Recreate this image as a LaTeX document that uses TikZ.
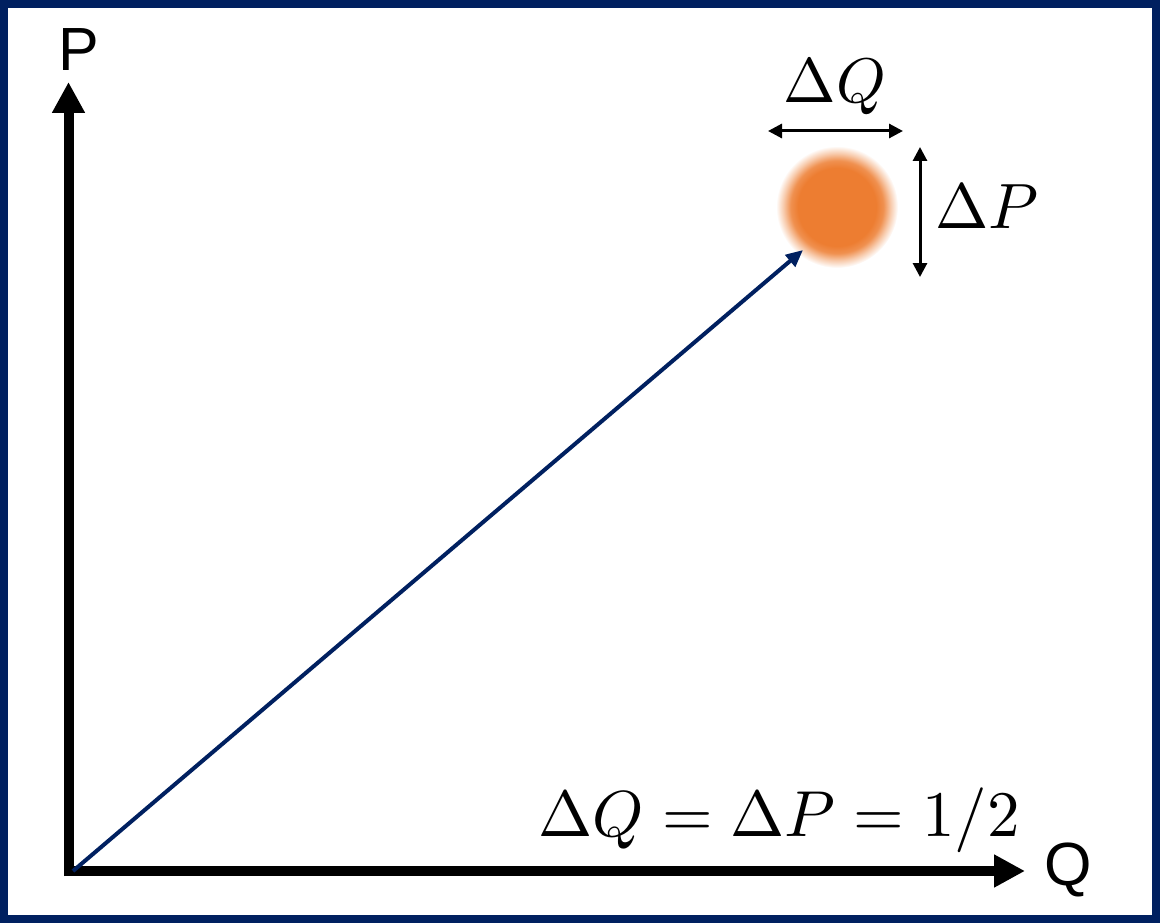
\documentclass[tikz,border=0pt]{standalone}
\usepackage{fontspec}
\setsansfont{Liberation Sans}
\usetikzlibrary{arrows.meta}
\definecolor{navy}{RGB}{0,32,96}
\definecolor{orng}{RGB}{237,125,49}
\pgfdeclareradialshading{blob}{\pgfpoint{0bp}{0bp}}{color(0bp)=(orng); color(16bp)=(orng); color(19bp)=(orng!85!white); color(22bp)=(orng!40!white); color(25bp)=(white)}
\newcommand{\bigmath}[2]{\scalebox{#1}{\fontsize{10}{12}\selectfont$#2$}}
\begin{document}
\begin{tikzpicture}[x=1pt,y=-1pt,
  axis/.style={line width=10pt,-{Triangle[length=31pt,width=31pt]}},
  dbl/.style={line width=3pt,{Triangle[length=14pt,width=14pt]}-{Triangle[length=14pt,width=14pt]}},
  axlabel/.style={font=\sffamily\fontsize{61}{70}\selectfont,inner sep=0pt},
  mathlabel/.style={inner sep=0pt}]
\useasboundingbox (0,0) rectangle (1160,923);
\draw[navy,line width=8pt] (4,4) rectangle (1156,919);
% blob
\shade[shading=blob] (837,207) circle (61);
\node[circle,minimum size=122pt,inner sep=0pt] (blob) at (837,207) {};
% axes
\coordinate (o) at (73,871);
\coordinate (vb) at (68.5,876);
\coordinate (vt) at (68.5,82);
\coordinate (hb) at (64,871);
\coordinate (ht) at (1025,871);
\draw[axis] (vb) -- (vt);
\draw[axis] (hb) -- (ht);
\node[axlabel] (P) at (79,50) {P};
\node[axlabel] (Q) at (1068,870) {Q};
% diagonal
\coordinate (tip) at (803,250);
\draw[navy,line width=4pt,-{Triangle[length=17pt,width=15pt]}] (o) -- (tip);
% uncertainty arrows
\coordinate (dqa) at (768,131);
\coordinate (dqb) at (903,131);
\draw[dbl] (dqa) -- (dqb);
\coordinate (dpa) at (920,147);
\coordinate (dpb) at (920,277);
\draw[dbl] (dpa) -- (dpb);
\node[mathlabel,anchor=base] (dQ) at (835,103) {\bigmath{6.3}{\Delta Q}};
\node[mathlabel,anchor=base west] (dP) at (935,229) {\bigmath{6.4}{\Delta P}};
\node[mathlabel,anchor=base east] (eq) at (1020,836) {\bigmath{6.5}{\Delta Q=\Delta P=1/2}};
\end{tikzpicture}
\end{document}
